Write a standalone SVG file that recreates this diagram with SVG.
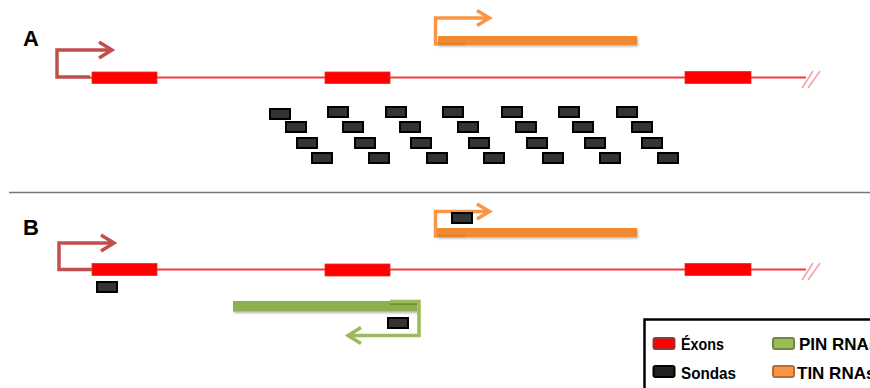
<svg xmlns="http://www.w3.org/2000/svg" width="870" height="388" viewBox="0 0 870 388">
  <defs>
    <filter id="shadow" x="-5%" y="-50%" width="110%" height="250%">
      <feDropShadow dx="1" dy="1.5" stdDeviation="1" flood-color="#000" flood-opacity="0.3"/>
    </filter>
    <g id="probe">
      <rect x="1" y="1" width="20" height="10" fill="#333" stroke="#000" stroke-width="2"/>
    </g>
  </defs>
  <style>
    .label { font-family: "Liberation Sans", Arial, sans-serif; font-weight: bold; font-size: 22px; fill: #000; }
    .legend { font-family: "Liberation Sans", Arial, sans-serif; font-weight: bold; font-size: 17px; fill: #000; }
    .gene { stroke: #f23a3a; stroke-width: 2; fill: none; }
    .exon { fill: #ff0000; stroke: #e0301a; stroke-width: 0.8; }
    .slash { stroke: #f4a0a8; stroke-width: 1.5; fill: none; }
    .tss-red { stroke: #c0504d; stroke-width: 3.5; fill: none; stroke-linejoin: miter; }
    .tss-orange { stroke: #f79646; stroke-width: 3.5; fill: none; }
    .tss-green { stroke: #9bbb59; stroke-width: 3.5; fill: none; }
    .bar-orange { fill: #f08a30; filter: url(#shadow); }
    .bar-green { fill: #8cb04c; filter: url(#shadow); }
  </style>

  <rect width="870" height="388" fill="#fff"/>

  <!-- panel labels and divider -->
  <text class="label" x="23" y="46">A</text>
  <text class="label" x="23" y="235">B</text>
  <line x1="9" y1="192.5" x2="870" y2="192.5" stroke="#777" stroke-width="1.5"/>

  <!-- Panel A: gene model -->
  <g id="geneA">
    <line class="gene" x1="88" y1="77.5" x2="806" y2="77.5"/>
    <rect class="exon" x="92" y="72" width="65" height="11.5"/>
    <rect class="exon" x="325" y="72" width="65" height="11.5"/>
    <rect class="exon" x="685" y="71.5" width="66" height="12"/>
    <line class="slash" x1="802" y1="88" x2="813" y2="71"/>
    <line class="slash" x1="808" y1="88" x2="820" y2="71"/>
  </g>
  <g id="tssA">
    <polyline class="tss-red" points="90,77 57,77 57,50 112,50"/>
    <polyline class="tss-red" points="99,42 112,50 99,58"/>
  </g>
  <g id="tinA">
    <rect class="bar-orange" x="438" y="36" width="199" height="9"/>
    <polyline class="tss-orange" points="465,44 435.5,44 435.5,18 489,18"/>
    <polyline class="tss-orange" points="477,10.5 489.5,18 477,25.5"/>
    <line x1="438" y1="43.5" x2="465" y2="43.5" stroke="#e07a25" stroke-width="2"/>
  </g>
  <g id="probesA">
    <use href="#probe" x="269" y="108"/>
    <use href="#probe" x="327" y="106"/>
    <use href="#probe" x="385" y="106"/>
    <use href="#probe" x="442" y="106"/>
    <use href="#probe" x="501" y="106"/>
    <use href="#probe" x="558" y="106"/>
    <use href="#probe" x="616" y="106"/>
    <use href="#probe" x="285" y="121"/>
    <use href="#probe" x="342" y="121"/>
    <use href="#probe" x="399" y="121"/>
    <use href="#probe" x="457" y="121"/>
    <use href="#probe" x="515" y="121"/>
    <use href="#probe" x="572" y="121"/>
    <use href="#probe" x="631" y="121"/>
    <use href="#probe" x="296" y="137"/>
    <use href="#probe" x="354" y="137"/>
    <use href="#probe" x="410" y="137"/>
    <use href="#probe" x="468" y="137"/>
    <use href="#probe" x="526" y="137"/>
    <use href="#probe" x="584" y="137"/>
    <use href="#probe" x="641" y="137"/>
    <use href="#probe" x="311" y="152"/>
    <use href="#probe" x="368" y="152"/>
    <use href="#probe" x="426" y="152"/>
    <use href="#probe" x="483" y="152"/>
    <use href="#probe" x="542" y="152"/>
    <use href="#probe" x="599" y="152"/>
    <use href="#probe" x="657" y="152"/>
  </g>

  <!-- Panel B: gene model -->
  <g id="geneB">
    <line class="gene" x1="90" y1="269.5" x2="806" y2="269.5"/>
    <rect class="exon" x="92" y="263.5" width="65" height="12"/>
    <rect class="exon" x="325" y="264" width="65" height="12"/>
    <rect class="exon" x="685" y="263.5" width="66" height="12"/>
    <line class="slash" x1="802" y1="280" x2="813" y2="263"/>
    <line class="slash" x1="808" y1="280" x2="820" y2="263"/>
  </g>
  <g id="tssB">
    <polyline class="tss-red" points="92,269.5 59,269.5 59,243 114,243"/>
    <polyline class="tss-red" points="101,235 114,243 101,251"/>
  </g>
  <g id="tinB">
    <rect class="bar-orange" x="437" y="228" width="200" height="9"/>
    <polyline class="tss-orange" points="465,236 435.5,236 435.5,211.5 489,211.5"/>
    <polyline class="tss-orange" points="477,204 489.5,211.5 477,219"/>
    <line x1="437" y1="235.5" x2="465" y2="235.5" stroke="#e07a25" stroke-width="2"/>
  </g>
  <g id="pinB">
    <rect class="bar-green" x="233" y="301" width="184" height="10.5"/>
    <line x1="390" y1="303" x2="417" y2="303" stroke="#6f8f35" stroke-width="4"/>
    <polyline class="tss-green" points="390,301.5 419,301.5 419,335.5 348,335.5"/>
    <polyline class="tss-green" points="361,327.5 348,335.5 361,343.5"/>
  </g>
  <g id="probesB">
    <use href="#probe" x="96" y="281"/>
    <use href="#probe" x="451" y="212"/>
    <use href="#probe" x="387" y="317"/>
  </g>

  <!-- legend -->
  <g id="legend">
    <rect x="644.5" y="319.5" width="240" height="80" fill="#fff" stroke="#000" stroke-width="2.5"/>
    <rect x="653.5" y="338" width="21" height="11" rx="2" fill="#ff0000" stroke="#953735" stroke-width="2"/>
    <text class="legend" x="681" y="350" textLength="43" lengthAdjust="spacingAndGlyphs">Éxons</text>
    <rect x="653.5" y="366" width="21" height="11" rx="2" fill="#222" stroke="#000" stroke-width="2"/>
    <text class="legend" x="681" y="379" textLength="55" lengthAdjust="spacingAndGlyphs">Sondas</text>
    <rect x="773" y="338" width="21" height="11" rx="2" fill="#9bbb59" stroke="#71893f" stroke-width="2"/>
    <text class="legend" x="799" y="350">PIN RNAs</text>
    <rect x="773" y="366" width="21" height="11" rx="2" fill="#f79646" stroke="#b66d31" stroke-width="2"/>
    <text class="legend" x="797" y="379">TIN RNAs</text>
  </g>
</svg>
